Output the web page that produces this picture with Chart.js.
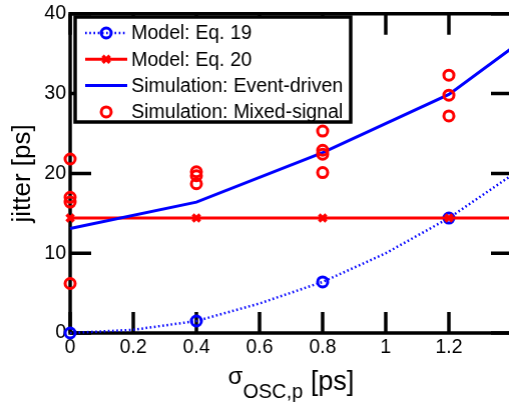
<!DOCTYPE html>
<html>
<head>
<meta charset="utf-8">
<script src="https://cdn.jsdelivr.net/npm/chart.js@4.4.0/dist/chart.umd.min.js"></script>
<style>
  html, body { margin: 0; padding: 0; background: #fff; overflow: hidden; }
  #wrap { width: 514px; height: 403px; }
</style>
</head>
<body>
<div id="wrap"><canvas id="jitterChart"></canvas></div>
<script>
"use strict";

// tick values
var sigmaTicks = [0, 0.2, 0.4, 0.6, 0.8, 1.0, 1.2, 1.4];
var jitterTicks = [0, 10, 20, 30, 40];

// Model: Eq. 19 (dotted, circles on the simulated sigmas)
var eq19X = [0, 0.2, 0.4, 0.6, 0.8, 1.0, 1.2, 1.4];
var eq19Y = [0, 0.4, 1.5, 3.7, 6.4, 10.0, 14.4, 19.8];
var eq19Marked = [true, false, true, false, true, false, true, false];

// Model: Eq. 20
var eq20X = [0, 0.4, 0.8, 1.2, 1.4];
var eq20Y = [14.4, 14.4, 14.4, 14.4, 14.4];
var eq20Marked = [true, true, true, true, false];

// Simulation: Event-driven
var eventX = [0, 0.4, 0.8, 1.2, 1.4];
var eventY = [13.1, 16.4, 22.6, 29.9, 35.7];

// Simulation: Mixed-signal (several runs per sigma)
var mixedX = [0, 0, 0, 0, 0.4, 0.4, 0.4, 0.8, 0.8, 0.8, 0.8, 1.2, 1.2, 1.2];
var mixedY = [21.8, 17.0, 16.4, 6.2, 20.2, 19.7, 18.7, 25.3, 22.9, 22.4, 20.1, 32.3, 29.8, 27.2];

var FONT = "'Liberation Sans', Arial, sans-serif";
var TICK = 21;

function pts(xs, ys) {
  return xs.map(function(x, i){ return {x: x, y: ys[i]}; });
}

var framePlugin = {
  id: 'frame',
  beforeDatasetsDraw: function(chart) {
    var ctx = chart.ctx, a = chart.chartArea;
    var xs = chart.scales.x, ys = chart.scales.y;
    ctx.save();
    ctx.strokeStyle = '#000';
    ctx.lineWidth = 3.5;
    ctx.beginPath();
    sigmaTicks.forEach(function(v){
      var px = xs.getPixelForValue(v);
      ctx.moveTo(px, a.bottom); ctx.lineTo(px, a.bottom - TICK);
      ctx.moveTo(px, a.top); ctx.lineTo(px, a.top + TICK);
    });
    jitterTicks.forEach(function(v){
      var py = ys.getPixelForValue(v);
      ctx.moveTo(a.left, py); ctx.lineTo(a.left + TICK, py);
      ctx.moveTo(a.right, py); ctx.lineTo(a.right - TICK, py);
    });
    ctx.stroke();
    ctx.strokeRect(a.left, a.top, a.right - a.left, a.bottom - a.top);
    ctx.restore();
  },
  afterDraw: function(chart) {
    var ctx = chart.ctx, a = chart.chartArea;
    ctx.save();
    ctx.fillStyle = '#000';
    ctx.textBaseline = 'alphabetic';

    // y title
    ctx.save();
    ctx.translate(30, (a.top + a.bottom) / 2);
    ctx.rotate(-Math.PI / 2);
    ctx.font = "26px " + FONT;
    ctx.textAlign = 'center';
    ctx.fillText('jitter [ps]', 0, 0);
    ctx.restore();

    // x title with subscript
    ctx.textAlign = 'left';
    var f1 = "24px " + FONT, f2 = "20px " + FONT, f3 = "27px " + FONT;
    ctx.font = f1; var w1 = ctx.measureText('\u03c3').width;
    ctx.font = f2; var w2 = ctx.measureText('OSC,p').width;
    ctx.font = f3; var w3 = ctx.measureText(' [ps]').width;
    var x0 = (a.left + a.right) / 2 - (w1 + w2 + w3) / 2;
    ctx.font = f1; ctx.fillText('\u03c3', x0, 384);
    ctx.font = f2; ctx.fillText('OSC,p', x0 + w1, 398);
    ctx.font = f3; ctx.fillText(' [ps]', x0 + w1 + w2, 390);
    ctx.restore();

    // legend box
    var L = 75, T = 17, W = 275, H = 105;
    ctx.save();
    ctx.fillStyle = '#fff';
    ctx.fillRect(L, T, W, H);
    ctx.strokeStyle = '#000';
    ctx.lineWidth = 3.5;
    ctx.strokeRect(L, T, W, H);
    var sx0 = L + 10, sx1 = L + 52, sxm = (sx0 + sx1) / 2;
    chart.data.datasets.forEach(function(ds, i){
      var cy = T + 16 + i * 26.3;
      if (ds.showLine !== false) {
        ctx.save();
        ctx.strokeStyle = ds.borderColor;
        ctx.lineWidth = ds.borderWidth;
        ctx.setLineDash(ds.borderDash || []);
        ctx.beginPath();
        ctx.moveTo(sx0, cy); ctx.lineTo(sx1, cy);
        ctx.stroke();
        ctx.restore();
      }
      if (ds.legendMarker) {
        ctx.save();
        ctx.strokeStyle = ds.pointBorderColor;
        ctx.lineWidth = ds.pointBorderWidth;
        ctx.fillStyle = ds.pointBackgroundColor;
        Chart.helpers.drawPoint(ctx, {
          pointStyle: ds.pointStyle, radius: ds.legendRadius, borderWidth: ds.pointBorderWidth
        }, sxm, cy);
        ctx.restore();
      }
      ctx.fillStyle = '#000';
      ctx.font = "19.5px " + FONT;
      ctx.textAlign = 'left';
      ctx.textBaseline = 'middle';
      ctx.fillText(ds.label, L + 56, cy + 1);
    });
    ctx.restore();
  }
};

var datasets = [
  {
    label: 'Model: Eq. 19',
    data: pts(eq19X, eq19Y),
    borderColor: '#0000ff',
    borderWidth: 2.5,
    borderDash: [1.6, 2.6],
    pointStyle: 'circle',
    pointRadius: eq19Marked.map(function(m){ return m ? 5 : 0; }),
    pointBorderWidth: 3,
    pointBorderColor: '#0000ff',
    pointBackgroundColor: 'rgba(0,0,0,0)',
    legendMarker: true, legendRadius: 5,
    order: 4
  },
  {
    label: 'Model: Eq. 20',
    data: pts(eq20X, eq20Y),
    borderColor: '#ff0000',
    borderWidth: 3,
    pointStyle: 'crossRot',
    pointRadius: eq20Marked.map(function(m){ return m ? 5 : 0; }),
    pointBorderWidth: 3.5,
    pointBorderColor: '#ff0000',
    pointBackgroundColor: '#ff0000',
    legendMarker: true, legendRadius: 5,
    order: 3
  },
  {
    label: 'Simulation: Event-driven',
    data: pts(eventX, eventY),
    borderColor: '#0000ff',
    borderWidth: 3,
    pointRadius: 0,
    order: 2
  },
  {
    label: 'Simulation: Mixed-signal',
    data: pts(mixedX, mixedY),
    showLine: false,
    borderColor: '#ff0000',
    pointStyle: 'circle',
    pointRadius: 5,
    pointBorderWidth: 3,
    pointBorderColor: '#ff0000',
    pointBackgroundColor: 'rgba(0,0,0,0)',
    legendMarker: true, legendRadius: 5,
    order: 1
  }
];

var wrap = document.getElementById('wrap');
var ctx = document.getElementById('jitterChart');
var jitterChart = new Chart(ctx, {
  type: 'line',
  data: { datasets: datasets },
  plugins: [framePlugin],
  options: {
    responsive: true,
    maintainAspectRatio: false,
    animation: false,
    clip: false,
    layout: { padding: { top: 11, right: 3, left: 0, bottom: 0 } },
    elements: { line: { tension: 0 } },
    plugins: { legend: { display: false }, tooltip: { enabled: false } },
    scales: {
      x: {
        type: 'linear',
        min: 0, max: 1.4,
        afterBuildTicks: function(scale){
          scale.ticks = sigmaTicks.map(function(v){ return {value: v}; });
        },
        ticks: {
          color: '#000',
          font: { family: FONT, size: 19.5 },
          padding: 3,
          maxRotation: 0,
          autoSkip: false,
          callback: function(v){ return v > 1.3 ? '' : String(parseFloat(v.toFixed(1))); }
        },
        grid: { display: false, drawTicks: false },
        border: { display: false },
        afterFit: function(scale){ scale.height = 70; }
      },
      y: {
        type: 'linear',
        min: 0, max: 40,
        afterBuildTicks: function(scale){
          scale.ticks = jitterTicks.map(function(v){ return {value: v}; });
        },
        ticks: {
          color: '#000',
          font: { family: FONT, size: 19.5, lineHeight: 1 },
          padding: 4
        },
        grid: { display: false, drawTicks: false },
        border: { display: false },
        afterFit: function(scale){ scale.width = 70; }
      }
    }
  }
});

// nudge the plot box so the axes sit where they do in the figure (left 70, top 11, right 511)
var area = jitterChart.chartArea;
var dx = 511 - area.right;
var dy = 11 - area.top;
if (Math.abs(dx) > 0.5 || Math.abs(dy) > 0.5) {
  wrap.style.width = (514 + dx) + 'px';
  jitterChart.options.layout.padding.top = 11 + dy;
  jitterChart.resize();
  jitterChart.update();
}
</script>
</body>
</html>
